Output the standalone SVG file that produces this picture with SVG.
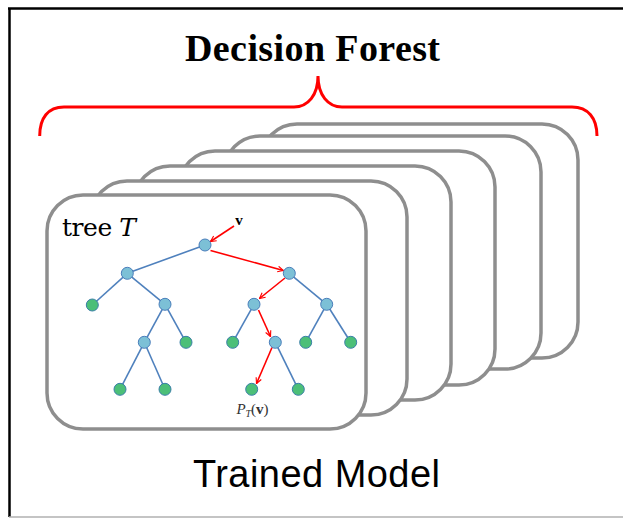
<svg xmlns="http://www.w3.org/2000/svg" width="623" height="519" viewBox="0 0 623 519">
<style>
.card{fill:#fff;stroke:#8e8e8e;stroke-width:3.5}
.edge{stroke:#4f81bd;stroke-width:1.6;fill:none}
.hot{stroke:#ff0000;stroke-width:1.6;fill:none;marker-end:url(#ah)}
.inner{fill:#7cc0d6;stroke:#4a7ebb;stroke-width:1}
.leaf{fill:#4cbf78;stroke:#3a7fa8;stroke-width:1}
</style>
<defs>
<marker id="ah" viewBox="0 0 10 10" refX="9" refY="5" markerWidth="7" markerHeight="7" markerUnits="userSpaceOnUse" orient="auto">
<path d="M1,1 L9,5 L1,9" fill="none" stroke="#ff0000" stroke-width="1.6"/>
</marker>
</defs>
<rect width="623" height="519" fill="#fff"/>
<g id="frame">
<line x1="8" y1="8.5" x2="623" y2="8.5" stroke="#000" stroke-width="2.5"/>
<line x1="9.5" y1="8" x2="9.5" y2="517" stroke="#000" stroke-width="2.5"/>
<line x1="9" y1="517" x2="623" y2="517" stroke="#b0b0b0" stroke-width="1.5"/>
</g>
<g id="title">
<text x="312.5" y="61" font-family="Liberation Serif, serif" font-weight="bold" font-size="38" text-anchor="middle" textLength="255">Decision Forest</text>
</g>
<g id="brace">
<path d="M39.7,136 C39.7,118 48,107 64,107 L294,107 C308,107 318,95 318,76 C318,95 328,107 342,107 L572,107 C588,107 597,118 597,136" fill="none" stroke="#ff0000" stroke-width="3"/>
</g>
<g id="cards">
<rect id="card6" class="card" x="261" y="124" width="317" height="234" rx="36"/>
<rect id="card5" class="card" x="224" y="136" width="317" height="233" rx="36"/>
<rect id="card4" class="card" x="179" y="151" width="316" height="234" rx="36"/>
<rect id="card3" class="card" x="134" y="166" width="317" height="234" rx="36"/>
<rect id="card2" class="card" x="91" y="181" width="316" height="234" rx="36"/>
<rect id="card1" class="card" x="47" y="195" width="319" height="234" rx="36"/>
</g>
<g id="tree-label">
<text x="62" y="236" font-family="DejaVu Serif, serif" font-size="25" textLength="74">tree <tspan font-style="italic">T</tspan></text>
</g>
<g id="connectors">
<line class="edge" x1="205" y1="245" x2="127.3" y2="273.3"/>
<line class="edge" x1="127.3" y1="273.3" x2="92.3" y2="305"/>
<line class="edge" x1="127.3" y1="273.3" x2="165" y2="304.3"/>
<line class="edge" x1="165" y1="304.3" x2="144.3" y2="342.3"/>
<line class="edge" x1="165" y1="304.3" x2="186" y2="342.3"/>
<line class="edge" x1="144.3" y1="342.3" x2="120" y2="389.3"/>
<line class="edge" x1="144.3" y1="342.3" x2="165" y2="389.3"/>
<line class="edge" x1="289.3" y1="273.3" x2="326.7" y2="304.3"/>
<line class="edge" x1="254" y1="304.3" x2="232.7" y2="342.3"/>
<line class="edge" x1="326.7" y1="304.3" x2="305.7" y2="342.3"/>
<line class="edge" x1="326.7" y1="304.3" x2="350.7" y2="342.3"/>
<line class="edge" x1="275.3" y1="342.3" x2="298.3" y2="389.3"/>
<line class="hot" x1="234" y1="226" x2="210.5" y2="241.5"/>
<line class="hot" x1="210.5" y1="250.5" x2="283.3" y2="270.5"/>
<line class="hot" x1="285" y1="278" x2="259.5" y2="298.5"/>
<line class="hot" x1="258.5" y1="310" x2="270.5" y2="336.5"/>
<line class="hot" x1="272" y1="347.5" x2="256.5" y2="383.5"/>
</g>
<g id="nodes">
<circle id="n-root" class="inner" cx="205" cy="245" r="6"/>
<circle id="n-l" class="inner" cx="127.3" cy="273.3" r="6"/>
<circle id="n-r" class="inner" cx="289.3" cy="273.3" r="6"/>
<circle id="n-ll" class="leaf" cx="92.3" cy="305" r="6"/>
<circle id="n-lr" class="inner" cx="165" cy="304.3" r="6"/>
<circle id="n-rl" class="inner" cx="254" cy="304.3" r="6"/>
<circle id="n-rr" class="inner" cx="326.7" cy="304.3" r="6"/>
<circle id="n-lrl" class="inner" cx="144.3" cy="342.3" r="6"/>
<circle id="n-lrr" class="leaf" cx="186" cy="342.3" r="6"/>
<circle id="n-rll" class="leaf" cx="232.7" cy="342.3" r="6"/>
<circle id="n-rlr" class="inner" cx="275.3" cy="342.3" r="6"/>
<circle id="n-rrl" class="leaf" cx="305.7" cy="342.3" r="6"/>
<circle id="n-rrr" class="leaf" cx="350.7" cy="342.3" r="6"/>
<circle id="n-lrll" class="leaf" cx="120" cy="389.3" r="6"/>
<circle id="n-lrlr" class="leaf" cx="165" cy="389.3" r="6"/>
<circle id="n-rlrl" class="leaf" cx="251.7" cy="389.3" r="6"/>
<circle id="n-rlrr" class="leaf" cx="298.3" cy="389.3" r="6"/>
</g>
<g id="labels">
<text x="239" y="225" font-family="Liberation Serif, serif" font-weight="bold" font-size="15" text-anchor="middle">v</text>
<text x="252.5" y="414" font-family="Liberation Serif, serif" font-size="15" text-anchor="middle" fill="#333"><tspan font-style="italic">P</tspan><tspan font-style="italic" font-size="10" dy="3">T</tspan><tspan dy="-3">(</tspan><tspan font-weight="bold">v</tspan>)</text>
<text x="316.5" y="487" font-family="Liberation Sans, sans-serif" font-size="38" text-anchor="middle" textLength="247">Trained Model</text>
</g>
</svg>
